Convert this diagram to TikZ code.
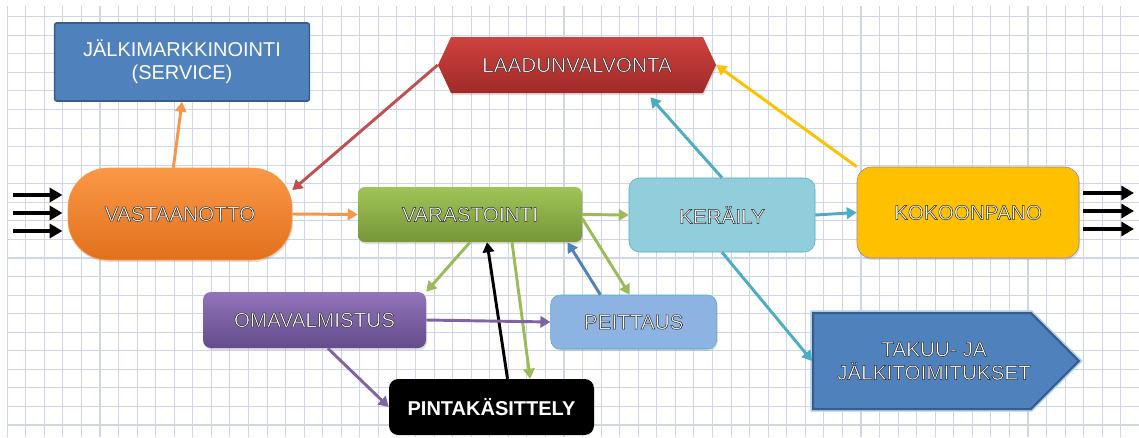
\documentclass[tikz,border=0pt]{standalone}
\usepackage{fontspec}
\setmainfont{Liberation Sans}
\newfontfamily\rimfont{Liberation Sans}[FakeBold=2.4]
\usetikzlibrary{arrows.meta,shapes.symbols,shadows}

\definecolor{gridc}{RGB}{208,214,232}
\definecolor{bluefill}{RGB}{79,129,189}
\definecolor{blueedge}{RGB}{56,93,138}
\definecolor{redtop}{RGB}{206,66,62}
\definecolor{redbot}{RGB}{160,42,40}
\definecolor{orangetop}{RGB}{250,152,70}
\definecolor{orangebot}{RGB}{226,112,28}
\definecolor{greentop}{RGB}{160,196,88}
\definecolor{greenbot}{RGB}{118,150,56}
\definecolor{aquafill}{RGB}{146,205,220}
\definecolor{aquaedge}{RGB}{75,172,198}
\definecolor{goldfill}{RGB}{255,192,0}
\definecolor{goldedge}{RGB}{150,128,170}
\definecolor{purpletop}{RGB}{146,116,186}
\definecolor{purplebot}{RGB}{100,76,140}
\definecolor{skyfill}{RGB}{141,179,226}
\definecolor{glow}{RGB}{170,205,240}
\definecolor{arrorange}{RGB}{247,150,70}
\definecolor{arrred}{RGB}{192,80,77}
\definecolor{arrgreen}{RGB}{155,187,89}
\definecolor{arraqua}{RGB}{75,172,198}
\definecolor{arrgold}{RGB}{255,192,0}
\definecolor{arrpurple}{RGB}{128,100,162}
\definecolor{arrblue}{RGB}{79,129,189}

% white letters with a dark rim (stroke colour set by hand)
\newcommand\outl[1]{{\rimfont\special{pdf:literal direct 0.15 G}#1}}

\tikzset{
  box/.style={rectangle, inner sep=0pt, text=white, align=center,
    font=\fontsize{15.5}{17.5}\selectfont},
  shade/.style={drop shadow={opacity=0.25, shadow xshift=0.8pt, shadow yshift=-1.5pt}},
  link/.style={line width=2.2pt, -{Triangle[length=7.5pt,width=8.5pt]}},
  feed/.style={line width=3.5pt, black, -{Triangle[length=9.5pt,width=10.5pt]}},
  gridline/.style={draw=gridc, line width=0.8pt},
}

\begin{document}
\begin{tikzpicture}[x=0.75pt, y=-0.75pt]
  \useasboundingbox (0,0) rectangle (1139,437);
  % squared paper
  \foreach \i in {0,...,60}
    \draw [gridline] ({7.2+18.56*\i},6) -- ({7.2+18.56*\i},437);
  \foreach \j in {0,...,22}
    \draw [gridline] (7.2,{16.7+18.56*\j}) -- (1139,{16.7+18.56*\j});

  \node [box, draw=blueedge, line width=1.2pt, fill=bluefill, rounded corners=1.5pt,
    minimum width=191pt, minimum height=58.5pt,
    font=\fontsize{15}{17.5}\selectfont] (jalki) at (182,62) {JÄLKIMARKKINOINTI\\(SERVICE)};
  \node [box, shade, signal, signal to=west and east, signal pointer angle=130,
    top color=redtop, bottom color=redbot,
    minimum width=208.5pt, minimum height=42pt] (laatu) at (577,65) {\outl{LAADUNVALVONTA}};
  \node [box, shade, rounded corners=30pt, top color=orangetop, bottom color=orangebot,
    draw=orangetop, minimum width=168pt, minimum height=69pt] (vast) at (180,214) {\outl{VASTAANOTTO}};
  \node [box, shade, rounded corners=5pt, top color=greentop, bottom color=greenbot,
    minimum width=168pt, minimum height=41.25pt] (varas) at (470,214.5) {\outl{VARASTOINTI}};
  \node [box, rounded corners=8pt, fill=aquafill, draw=aquaedge,
    minimum width=139.5pt, minimum height=55.5pt] (keraily) at (722,215) {\outl{KERÄILY}};
  \node [box, shade, rounded corners=11pt, fill=goldfill, draw=goldedge,
    minimum width=166.5pt, minimum height=68.25pt] (kokoon) at (968,212.5) {\outl{KOKOONPANO}};
  \node [box, shade, rounded corners=6pt, top color=purpletop, bottom color=purplebot,
    minimum width=167.25pt, minimum height=42pt] (omaval) at (314.5,320) {\outl{OMAVALMISTUS}};
  \node [box, shade, rounded corners=7pt, fill=skyfill, draw=aquaedge,
    minimum width=124.5pt, minimum height=40.5pt] (peittaus) at (633.7,322) {\outl{PEITTAUS}};
  \node [box, rounded corners=7pt, fill=black,
    minimum width=153.75pt, minimum height=42pt,
    font=\fontsize{15}{17.5}\selectfont\bfseries] (pinta) at (491.5,407) {PINTAKÄSITTELY};
  \node [box, signal, signal to=east, signal pointer angle=90,
    fill=bluefill, draw=blueedge, line width=1.5pt,
    preaction={draw=glow, line width=4pt},
    minimum width=186pt, minimum height=72pt] (takuu) at (922,361)
    {\hspace*{18pt}\outl{TAKUU- JA}\\\hspace*{18pt}\outl{JÄLKITOIMITUKSET}};

  \coordinate (in1) at (13,195);
  \coordinate (in2) at (13,213);
  \coordinate (in3) at (13,231);
  \coordinate (out1) at (1134,193);
  \coordinate (out2) at (1134,211);
  \coordinate (out3) at (1134,229);

  \draw [feed, shorten >=4pt] (in1) -- (in1 -| vast.west);
  \draw [feed, shorten >=4pt] (in2) -- (in2 -| vast.west);
  \draw [feed, shorten >=4pt] (in3) -- (in3 -| vast.west);
  \draw [feed, shorten <=3pt] (out1 -| kokoon.east) -- (out1);
  \draw [feed, shorten <=3pt] (out2 -| kokoon.east) -- (out2);
  \draw [feed, shorten <=3pt] (out3 -| kokoon.east) -- (out3);

  \draw [link, arrorange] ([xshift=-5pt]vast.north) -- (jalki.south);
  \draw [link, arrred] (laatu.west) -- (vast.12);
  \draw [link, arrorange] (vast.east) -- (varas.west);
  \draw [link, arrgreen] (varas.east) -- (keraily.west);
  \draw [link, arraqua] (keraily.east) -- (kokoon.west);
  \draw [link, arrgold] (kokoon.north west) -- (laatu.east);
  \draw [link, arraqua] (keraily.north) -- ([xshift=55pt,yshift=-3pt]laatu.south);
  \draw [link, arraqua] (keraily.south) -- (takuu.west);
  \draw [link, arrgreen] (varas.south) -- (omaval.north east);
  \draw [link, black] ([xshift=12pt]pinta.north) -- ([xshift=12.75pt]varas.south);
  \draw [link, arrgreen] ([xshift=31.5pt]varas.south) -- ([xshift=29pt]pinta.north);
  \draw [link, arrblue] ([xshift=-25pt]peittaus.north) -- ([xshift=-11pt]varas.south east);
  \draw [link, arrgreen] ([yshift=-3pt]varas.east) -- ([xshift=-3pt]peittaus.north);
  \draw [link, arrpurple] (omaval.east) -- (peittaus.west);
  \draw [link, arrpurple] ([xshift=10pt]omaval.south) -- (pinta.west);
\end{tikzpicture}
\end{document}
